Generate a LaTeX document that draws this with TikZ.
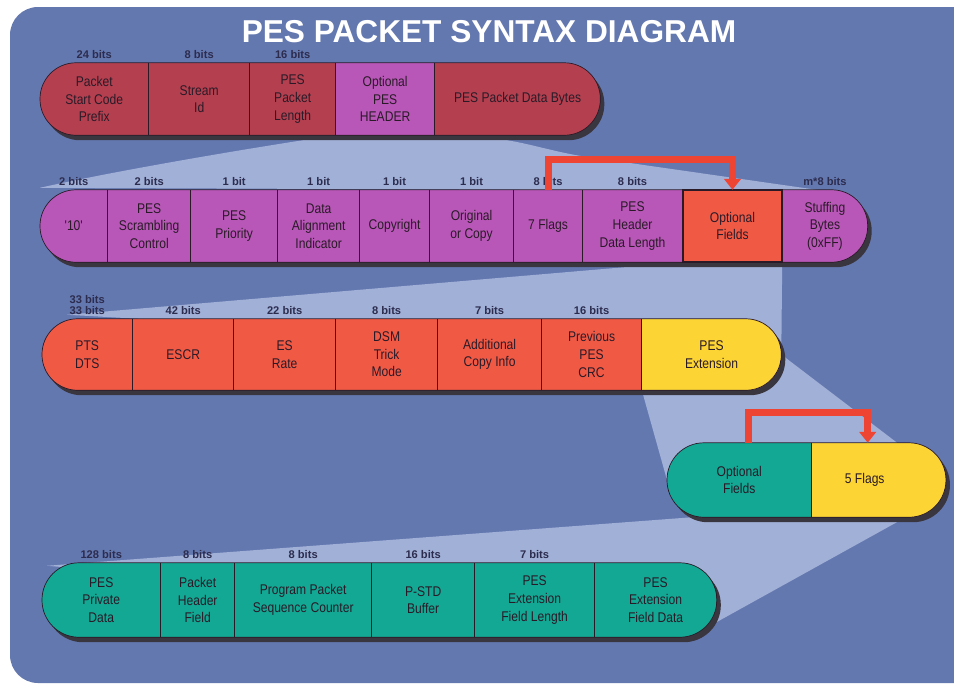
\documentclass[tikz,border=0pt]{standalone}
\usepackage{fontspec}
\setmainfont{Liberation Sans}
\newfontfamily\NarrowSans{Liberation Sans}[FakeStretch=0.86]
\usetikzlibrary{positioning,calc,backgrounds,arrows.meta}
\definecolor{PesBlue}{HTML}{6478B0}
\definecolor{PesPale}{HTML}{A1B0D7}
\definecolor{PesWine}{HTML}{B4404F}
\definecolor{PesPlum}{HTML}{B957B8}
\definecolor{PesCoral}{HTML}{F05A45}
\definecolor{PesGold}{HTML}{FCD535}
\definecolor{PesTeal}{HTML}{12A893}
\definecolor{PesShade}{HTML}{3A3640}
\definecolor{PesInk}{HTML}{2A1A28}
\definecolor{PesNavy}{HTML}{2C2C4E}
\definecolor{PesFlag}{HTML}{EE4434}
\def\pxu{0.3mm}
\tikzset{
  cell/.style 2 args={minimum width=#1*\pxu, minimum height=#2*\pxu, inner sep=0pt,
      align=center, text=PesInk, font=\NarrowSans\fontsize{12}{15}\selectfont},
  bits/.style={inner sep=0pt, align=center, text=PesNavy,
      font=\bfseries\fontsize{9.5}{9.5}\selectfont},
  divider/.style={draw=PesInk, line width=0.9pt},
  rowedge/.style={draw=PesInk, line width=0.6pt},
  flagarrow/.style={draw=PesFlag, line width=2.1mm,
      -{Triangle[length=3.3mm,width=5mm]}},
  shade/.style={fill=PesShade}
}

\begin{document}
\begin{tikzpicture}[x=\pxu, y=-\pxu]
  \useasboundingbox (0,0) rectangle (954,685);
  \node[font=\bfseries\fontsize{27}{27}\selectfont, text=white, inner sep=0pt] (title) at (489,32) {PES PACKET SYNTAX DIAGRAM};

  % row 1
  \node[cell={108}{72}, anchor=west] (pscp) at (40,99) {Packet\\Start Code\\Prefix};
  \node[cell={101}{72}, right=0pt of pscp] (sid) {Stream\\Id};
  \node[cell={85}{72}, right=0pt of sid] (ppl) {PES\\Packet\\Length};
  \node[cell={99}{72}, right=0pt of ppl] (oph) {Optional\\PES\\HEADER};
  \node[cell={165}{72}, right=0pt of oph] (ppdb) {PES Packet Data Bytes};
  \node[bits, above=1.2mm of pscp] (b-pscp) {24 bits};
  \node[bits, above=1.2mm of sid] (b-sid) {8 bits};
  \node[bits, above=1.2mm of ppl] (b-ppl) {16 bits};

  % row 2
  \node[cell={67}{72}, anchor=west] (q10) at (40,226) {'10'};
  \node[cell={83}{72}, right=0pt of q10] (psc) {PES\\Scrambling\\Control};
  \node[cell={86}{72}, right=0pt of psc] (ppri) {PES\\Priority};
  \node[cell={82}{72}, right=0pt of ppri] (dai) {Data\\Alignment\\Indicator};
  \node[cell={69}{72}, right=0pt of dai] (cpy) {Copyright};
  \node[cell={84}{72}, right=0pt of cpy] (ooc) {Original\\or Copy};
  \node[cell={68}{72}, right=0pt of ooc] (fl7) {7 Flags};
  \node[cell={100}{72}, right=0pt of fl7] (phdl) {PES\\Header\\Data Length};
  \node[cell={99}{72}, right=0pt of phdl] (of1) {Optional\\Fields};
  \node[cell={85}{72}, right=0pt of of1] (stb) {Stuffing\\Bytes\\(0xFF)};
  \node[bits, above=1.2mm of q10] (b-q10) {2 bits};
  \node[bits, above=1.2mm of psc] (b-psc) {2 bits};
  \node[bits, above=1.2mm of ppri] (b-ppri) {1 bit};
  \node[bits, above=1.2mm of dai] (b-dai) {1 bit};
  \node[bits, above=1.2mm of cpy] (b-cpy) {1 bit};
  \node[bits, above=1.2mm of ooc] (b-ooc) {1 bit};
  \node[bits, above=1.2mm of fl7] (b-fl7) {8 bits};
  \node[bits, above=1.2mm of phdl] (b-phdl) {8 bits};
  \node[bits, above=1.2mm of stb] (b-stb) {m*8 bits};

  % row 3
  \node[cell={90}{71}, anchor=west] (ptsdts) at (42,354.5) {PTS\\DTS};
  \node[cell={101}{71}, right=0pt of ptsdts] (escr) {ESCR};
  \node[cell={101}{71}, right=0pt of escr] (esr) {ES\\Rate};
  \node[cell={102}{71}, right=0pt of esr] (dsm) {DSM\\Trick\\Mode};
  \node[cell={103}{71}, right=0pt of dsm] (aci) {Additional\\Copy Info};
  \node[cell={100}{71}, right=0pt of aci] (pcrc) {Previous\\PES\\CRC};
  \node[cell={139}{71}, right=0pt of pcrc] (pext) {PES\\Extension};
  \node[bits, above=1.2mm of ptsdts] (b-ptsdts) {33 bits\\33 bits};
  \node[bits, above=1.2mm of escr] (b-escr) {42 bits};
  \node[bits, above=1.2mm of esr] (b-esr) {22 bits};
  \node[bits, above=1.2mm of dsm] (b-dsm) {8 bits};
  \node[bits, above=1.2mm of aci] (b-aci) {7 bits};
  \node[bits, above=1.2mm of pcrc] (b-pcrc) {16 bits};

  % row 4
  \node[cell={144}{74}, anchor=west] (of2) at (667,480) {Optional\\Fields};
  \node[cell={134}{74}, right=0pt of of2] (fl5) {\kern-8.4mm 5 Flags};

  % row 5
  \node[cell={118}{74}, anchor=west] (ppd) at (42,600) {PES\\Private\\Data};
  \node[cell={74}{74}, right=0pt of ppd] (phf) {Packet\\Header\\Field};
  \node[cell={136}{74}, right=0pt of phf] (ppsc) {Program Packet\\Sequence Counter};
  \node[cell={103}{74}, right=0pt of ppsc] (pstd) {P-STD\\Buffer};
  \node[cell={119}{74}, right=0pt of pstd] (pefl) {PES\\Extension\\Field Length};
  \node[cell={122}{74}, right=0pt of pefl] (pefd) {PES\\Extension\\Field Data};
  \node[bits, above=1.2mm of ppd] (b-ppd) {128 bits};
  \node[bits, above=1.2mm of phf] (b-phf) {8 bits};
  \node[bits, above=1.2mm of ppsc] (b-ppsc) {8 bits};
  \node[bits, above=1.2mm of pstd] (b-pstd) {16 bits};
  \node[bits, above=1.2mm of pefl] (b-pefl) {7 bits};

  \begin{scope}[on background layer]
    \fill[PesBlue, rounded corners=8.4mm] (10,7) rectangle (990,683);
    \fill[PesPale] (oph.south west) -- (455,135) .. controls (520,137) and (545,152) .. (595,158)
      -- (825,191) -- ($(q10.north west)+(0,-2)$) .. controls (120,170) and (250,148) .. (oph.south west) -- cycle;
    \fill[PesPale] (of1.south west) -- ($(ptsdts.north west)+(25,-4)$) -- (pext.east) -- (of1.south east) -- cycle;
    \fill[PesPale] (pext.south west) -- (pext.east) -- (fl5.east) -- (of2.west) -- cycle;
    \fill[PesPale] ($(of2.south west)+(25,0)$) -- ($(fl5.east)+(0,15)$) -- ($(pefd.east)+(0,22)$)
      -- ($(ppd.north west)+(5,3)$) -- cycle;

    \fill[shade, rounded corners=10.8mm] ([shift={(4,5)}]pscp.north west) rectangle ([shift={(4,5)}]ppdb.south east);
    \fill[shade, rounded corners=10.8mm] ([shift={(4,5)}]q10.north west) rectangle ([shift={(4,5)}]stb.south east);
    \fill[shade, rounded corners=10.65mm] ([shift={(4,5)}]ptsdts.north west) rectangle ([shift={(4,5)}]pext.south east);
    \fill[shade, rounded corners=11.1mm] ([shift={(4,5)}]of2.north west) rectangle ([shift={(4,5)}]fl5.south east);
    \fill[shade, rounded corners=11.1mm] ([shift={(4,5)}]ppd.north west) rectangle ([shift={(4,5)}]pefd.south east);

    \begin{scope}
      \clip[rounded corners=10.8mm] (pscp.north west) rectangle (ppdb.south east);
      \fill[PesWine] (pscp.north west) rectangle (ppdb.south east);
      \fill[PesPlum] (oph.north west) rectangle (oph.south east);
    \end{scope}
    \begin{scope}
      \clip[rounded corners=10.8mm] (q10.north west) rectangle (stb.south east);
      \fill[PesPlum] (q10.north west) rectangle (stb.south east);
      \fill[PesCoral] (of1.north west) rectangle (of1.south east);
    \end{scope}
    \begin{scope}
      \clip[rounded corners=10.65mm] (ptsdts.north west) rectangle (pext.south east);
      \fill[PesCoral] (ptsdts.north west) rectangle (pext.south east);
      \fill[PesGold] (pext.north west) rectangle (pext.south east);
    \end{scope}
    \begin{scope}
      \clip[rounded corners=11.1mm] (of2.north west) rectangle (fl5.south east);
      \fill[PesTeal] (of2.north west) rectangle (of2.south east);
      \fill[PesGold] (fl5.north west) rectangle (fl5.south east);
    \end{scope}
    \begin{scope}
      \clip[rounded corners=11.1mm] (ppd.north west) rectangle (pefd.south east);
      \fill[PesTeal] (ppd.north west) rectangle (pefd.south east);
    \end{scope}
  \end{scope}

  \draw[rowedge, rounded corners=10.8mm] (pscp.north west) rectangle (ppdb.south east);
  \draw[rowedge, rounded corners=10.8mm] (q10.north west) rectangle (stb.south east);
  \draw[rowedge, rounded corners=10.65mm] (ptsdts.north west) rectangle (pext.south east);
  \draw[rowedge, rounded corners=11.1mm] (of2.north west) rectangle (fl5.south east);
  \draw[rowedge, rounded corners=11.1mm] (ppd.north west) rectangle (pefd.south east);

  \foreach \c in {pscp,sid,ppl,oph,q10,psc,ppri,dai,cpy,ooc,fl7,phdl,ptsdts,escr,esr,dsm,aci,pcrc,of2,ppd,phf,ppsc,pstd,pefl}
    \draw[divider] (\c.north east) -- (\c.south east);
  \draw[PesInk, line width=1.3pt] (of1.north west) rectangle (of1.south east);

  \draw[flagarrow] (fl7.north) -- ++(0,-30) -| (of1.north);
  \draw[flagarrow] ($(of2.north)+(9,0)$) -- ++(0,-30) -| ($(fl5.north)+(-11,0)$);
\end{tikzpicture}
\end{document}
